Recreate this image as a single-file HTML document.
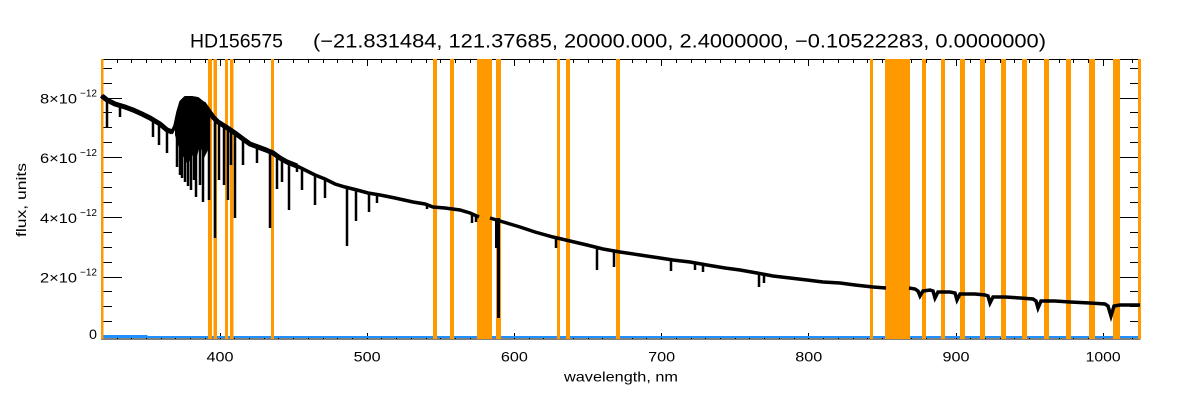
<!DOCTYPE html>
<html><head><meta charset="utf-8"><style>
html,body{margin:0;padding:0;background:#fff;}
svg{display:block;}
text{font-family:"Liberation Sans",sans-serif;fill:#000;}
</style></head><body>
<svg width="1200" height="400" viewBox="0 0 1200 400" xmlns="http://www.w3.org/2000/svg">
<rect width="1200" height="400" fill="#fff"/>
<!-- title -->
<text x="190" y="47.5" font-size="19" textLength="93" lengthAdjust="spacingAndGlyphs">HD156575</text>
<text x="313" y="47.5" font-size="19" textLength="733" lengthAdjust="spacingAndGlyphs">(−21.831484, 121.37685, 20000.000, 2.4000000, −0.10522283, 0.0000000)</text>

<!-- frame -->
<rect x="101.5" y="59.5" width="1038.5" height="279.5" fill="none" stroke="#000" stroke-width="1"/>

<!-- x ticks -->
<path stroke="#000" stroke-width="1" fill="none" d="
M102.5 339v-3M117.5 339v-3M131.5 339v-3M146.5 339v-3M161.5 339v-3M175.5 339v-3M190.5 339v-3M205.5 339v-3M220.5 339v-6M234.5 339v-3M249.5 339v-3M264.5 339v-3M278.5 339v-3M293.5 339v-3M308.5 339v-3M323.5 339v-3M337.5 339v-3M352.5 339v-3M367.5 339v-6M381.5 339v-3M396.5 339v-3M411.5 339v-3M426.5 339v-3M440.5 339v-3M455.5 339v-3M470.5 339v-3M485.5 339v-3M499.5 339v-3M514.5 339v-6M529.5 339v-3M543.5 339v-3M558.5 339v-3M573.5 339v-3M588.5 339v-3M602.5 339v-3M617.5 339v-3M632.5 339v-3M646.5 339v-3M661.5 339v-6M676.5 339v-3M691.5 339v-3M705.5 339v-3M720.5 339v-3M735.5 339v-3M749.5 339v-3M764.5 339v-3M779.5 339v-3M794.5 339v-3M808.5 339v-6M823.5 339v-3M838.5 339v-3M853.5 339v-3M867.5 339v-3M882.5 339v-3M897.5 339v-3M911.5 339v-3M926.5 339v-3M941.5 339v-3M956.5 339v-6M970.5 339v-3M985.5 339v-3M1000.5 339v-3M1014.5 339v-3M1029.5 339v-3M1044.5 339v-3M1059.5 339v-3M1073.5 339v-3M1088.5 339v-3M1103.5 339v-6M1117.5 339v-3M1132.5 339v-3
M102.5 60v3M117.5 60v3M131.5 60v3M146.5 60v3M161.5 60v3M175.5 60v3M190.5 60v3M205.5 60v3M220.5 60v6M234.5 60v3M249.5 60v3M264.5 60v3M278.5 60v3M293.5 60v3M308.5 60v3M323.5 60v3M337.5 60v3M352.5 60v3M367.5 60v6M381.5 60v3M396.5 60v3M411.5 60v3M426.5 60v3M440.5 60v3M455.5 60v3M470.5 60v3M485.5 60v3M499.5 60v3M514.5 60v6M529.5 60v3M543.5 60v3M558.5 60v3M573.5 60v3M588.5 60v3M602.5 60v3M617.5 60v3M632.5 60v3M646.5 60v3M661.5 60v6M676.5 60v3M691.5 60v3M705.5 60v3M720.5 60v3M735.5 60v3M749.5 60v3M764.5 60v3M779.5 60v3M794.5 60v3M808.5 60v6M823.5 60v3M838.5 60v3M853.5 60v3M867.5 60v3M882.5 60v3M897.5 60v3M911.5 60v3M926.5 60v3M941.5 60v3M956.5 60v6M970.5 60v3M985.5 60v3M1000.5 60v3M1014.5 60v3M1029.5 60v3M1044.5 60v3M1059.5 60v3M1073.5 60v3M1088.5 60v3M1103.5 60v6M1117.5 60v3M1132.5 60v3"/>

<!-- y ticks -->
<path stroke="#000" stroke-width="1" fill="none" d="
M102 336.5h20M102 321.5h10M102 306.5h10M102 291.5h10M102 277.5h20M102 262.5h10M102 247.5h10M102 232.5h10M102 217.5h20M102 202.5h10M102 187.5h10M102 172.5h10M102 157.5h20M102 142.5h10M102 127.5h10M102 112.5h10M102 98.5h20M102 83.5h10M102 68.5h10
M1140 336.5h-20M1140 321.5h-10M1140 306.5h-10M1140 291.5h-10M1140 277.5h-20M1140 262.5h-10M1140 247.5h-10M1140 232.5h-10M1140 217.5h-20M1140 202.5h-10M1140 187.5h-10M1140 172.5h-10M1140 157.5h-20M1140 142.5h-10M1140 127.5h-10M1140 112.5h-10M1140 98.5h-20M1140 83.5h-10M1140 68.5h-10"/>

<!-- x tick labels -->
<g font-size="14" text-anchor="middle">
<text x="220" y="361.7" textLength="27" lengthAdjust="spacingAndGlyphs">400</text>
<text x="367.2" y="361.7" textLength="27" lengthAdjust="spacingAndGlyphs">500</text>
<text x="514.4" y="361.7" textLength="27" lengthAdjust="spacingAndGlyphs">600</text>
<text x="661.6" y="361.7" textLength="27" lengthAdjust="spacingAndGlyphs">700</text>
<text x="808.8" y="361.7" textLength="27" lengthAdjust="spacingAndGlyphs">800</text>
<text x="956" y="361.7" textLength="27" lengthAdjust="spacingAndGlyphs">900</text>
<text x="1103.2" y="361.7" textLength="35" lengthAdjust="spacingAndGlyphs">1000</text>
</g>
<text x="564" y="381.5" font-size="14" textLength="114" lengthAdjust="spacingAndGlyphs">wavelength, nm</text>

<!-- y tick labels -->
<g font-size="14">
<text x="89" y="339" textLength="8" lengthAdjust="spacingAndGlyphs">0</text>
<text x="40" y="282.5" textLength="37" lengthAdjust="spacingAndGlyphs">2×10</text>
<text x="40" y="222.8" textLength="37" lengthAdjust="spacingAndGlyphs">4×10</text>
<text x="40" y="163.1" textLength="37" lengthAdjust="spacingAndGlyphs">6×10</text>
<text x="40" y="103.4" textLength="37" lengthAdjust="spacingAndGlyphs">8×10</text>
</g>
<g font-size="10">
<text x="80" y="275.5" textLength="17" lengthAdjust="spacingAndGlyphs">−12</text>
<text x="80" y="215.8" textLength="17" lengthAdjust="spacingAndGlyphs">−12</text>
<text x="80" y="156.1" textLength="17" lengthAdjust="spacingAndGlyphs">−12</text>
<text x="80" y="96.4" textLength="17" lengthAdjust="spacingAndGlyphs">−12</text>
</g>
<text transform="translate(26,200) rotate(-90)" font-size="14" text-anchor="middle" textLength="74" lengthAdjust="spacingAndGlyphs">flux, units</text>

<!-- blue line -->
<path stroke="#1e90ff" stroke-width="2" fill="none" d="M101 337H1140"/>
<path stroke="#1e90ff" stroke-width="1" fill="none" d="M101 335.5H147V337"/>

<!-- orange bands -->
<g fill="#ff9900">
<rect x="101" y="59" width="2.5" height="280"/>
<rect x="208" y="59" width="4" height="280"/>
<rect x="213.5" y="59" width="3.5" height="280"/>
<rect x="225" y="59" width="3" height="280"/>
<rect x="230" y="59" width="3.5" height="280"/>
<rect x="271" y="59" width="3" height="280"/>
<rect x="433" y="59" width="4" height="280"/>
<rect x="450" y="59" width="4" height="280"/>
<rect x="477" y="59" width="15" height="280"/>
<rect x="496" y="59" width="5" height="280"/>
<rect x="557" y="59" width="3" height="280"/>
<rect x="566" y="59" width="4" height="280"/>
<rect x="616" y="59" width="4" height="280"/>
<rect x="870" y="59" width="3" height="280"/>
<rect x="885" y="59" width="25" height="280"/>
<rect x="922" y="59" width="4" height="280"/>
<rect x="941" y="59" width="4" height="280"/>
<rect x="960" y="59" width="5" height="280"/>
<rect x="980" y="59" width="5" height="280"/>
<rect x="1001" y="59" width="5" height="280"/>
<rect x="1022" y="59" width="5" height="280"/>
<rect x="1044" y="59" width="5" height="280"/>
<rect x="1066" y="59" width="5" height="280"/>
<rect x="1089" y="59" width="6" height="280"/>
<rect x="1113" y="59" width="7" height="280"/>
<rect x="1138" y="59" width="3" height="280"/>
</g>

<!-- spectrum -->
<g fill="none" stroke="#000" stroke-linejoin="miter">
<path stroke-width="3.5" d="M101,96 L107,100 L115,104 L125,107 L133,110 L142,114 L150,118 L160,124 L167,130 L172,132 L175,126 L178,112 L181,102 L185,98 L192,98 L198,99 L203,103 L208,110 L213,117 L218,122 L226,127 L235,133 L243,139 L250,144 L258,147 L266,150 L273,153 L280,158 L287,162 L297,166 L305,170 L315,175 L325,179 L335,184 L345,187 L357,190 L368,193 L380,195 L395,198 L413,202 L425,204 L433,207 L445,208 L460,210 L470,213 L479,217
M490,218 L500,221 L510,224 L520,227 L535,232 L553,237 L570,241 L587,245 L603,249 L620,252 L640,255 L660,258 L673,260 L690,262 L707,265 L725,268 L740,270 L757,273 L773,276 L790,278 L807,280 L823,282 L840,283 L855,285 L873,287 L886,288
M909,288 L915,289 L918,291 L920,296 L923,291 L930,290 L933,291 L935,298 L938,292 L950,292 L955,293 L957,300 L960,294 L975,294 L985,295 L988,296 L990,303 L993,297 L1005,297 L1020,298 L1033,299 L1036,301 L1038,308 L1041,301 L1055,301 L1070,302 L1090,303 L1105,304 L1108,306 L1111,316 L1114,306 L1120,305 L1130,305 L1140,305"/>
<path stroke-width="5" d="M102,96 L107,100 L115,104 L125,107 L133,110 L142,114 L150,118 L160,124 L167,130 L172,132 M203,103 L208,110 L213,117 L218,122 L226,127 L235,133 L243,139 L250,144 L258,147 L266,150 L273,153 L280,158 L287,162 L297,166"/>
<path stroke-width="2.5" d="M107 100V128M120 105V117M153 120V137M159 123V145M167 130V153M177 120V167M180 108V175M182 102V178M185 98V182M188 98V186M191 98V190M194 98V180M196 98V197M200 100V185M203 103V202M209 110V200M215 120V238M219 122V180M224 126V185M228 128V200M231 130V165M235 133V218M243 139V165M257 147V163M270 152V228M277 156V189M282 159V182M289 163V210M297 166V172M302 169V190M315 175V205M325 179V198M347 187V246M356 190V221M369 193V212M377 195V203M427 205V209M472 213V223M476 215V222M556 238V248M597 248V270M614 251V267M671 260V271M695 263V270M703 264V272M759 273V287M764 274V283"/>
<path stroke-width="3" d="M498.5 218V318"/>
</g>
<rect x="495" y="218" width="5" height="30" fill="#000"/>
<polygon fill="#000" points="175,126 178,110 181,100 185,96 192,96 198,97 203,101 208,108 208,150 204,158 200,145 196,160 192,155 188,165 184,158 180,150 177,142 175,135"/>
</svg>
</body></html>
